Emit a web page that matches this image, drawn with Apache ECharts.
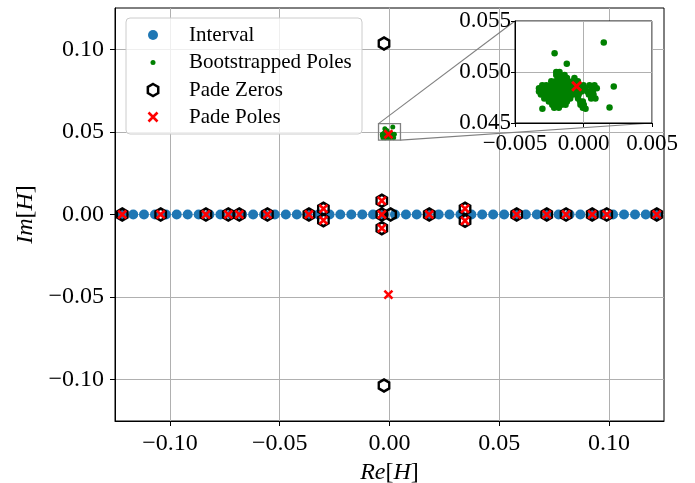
<!DOCTYPE html>
<html><head><meta charset="utf-8">
<script src="https://cdn.jsdelivr.net/npm/echarts@6/dist/echarts.min.js"></script>
<style>html,body{margin:0;padding:0;background:#fff}#c{width:695px;height:483px}</style>
</head><body><div id="c"></div>
<script>
// ---------- data ----------
const intervalRe = [
  -0.1217,-0.1167,-0.1118,-0.1068,-0.1018,-0.0969,-0.0919,-0.0869,-0.0820,-0.0770,
  -0.0720,-0.0671,-0.0621,-0.0571,-0.0522,-0.0472,-0.0422,-0.0373,-0.0323,-0.0273,
  -0.0224,-0.0174,-0.0124,-0.0075,-0.0025,0.0025,0.0075,0.0124,0.0174,0.0224,
  0.0273,0.0323,0.0373,0.0422,0.0472,0.0522,0.0571,0.0621,0.0671,0.0720,
  0.0770,0.0820,0.0869,0.0919,0.0969,0.1018,0.1068,0.1118,0.1167,0.1217
];
const poleRe = [-0.1217,-0.1042,-0.0836,-0.0734,-0.0684,-0.0556,-0.0367,-0.0301,-0.0301,
  -0.0035,-0.0035,-0.0035,0.0181,0.0344,0.0344,0.0579,0.0716,0.0804,0.0923,0.0989,0.1217,
  -0.0005,-0.0005];
const poleIm = [0,0,0,0,0,0,0,0.0035,-0.0035,
  0.0083,0,-0.0083,0,0.0035,-0.0038,0,0,0,0,0,0,
  0.0486,-0.0485];
const zeroRe = [-0.1217,-0.1042,-0.0836,-0.0734,-0.0684,-0.0556,-0.0367,-0.0301,-0.0301,
  -0.0035,-0.0035,-0.0035,0.0005,0.0181,0.0344,0.0344,0.0579,0.0716,0.0804,0.0923,0.0989,0.1217,
  -0.0025,-0.0025];
const zeroIm = [0,0,0,0,0,0,0,0.0035,-0.0035,
  0.0083,0,-0.0083,0,0,0.0035,-0.0038,0,0,0,0,0,0,
  0.1035,-0.1035];
const bootRe = [
  -0.00199,-0.00175,
  -0.00199,-0.00170,-0.00138,
  -0.00187,-0.00155,-0.00121,-0.00066,
  -0.00235,-0.00204,-0.00175,-0.00143,-0.00112,-0.00078,-0.00041,
  -0.00301,-0.00272,-0.00240,-0.00209,-0.00175,-0.00141,-0.00107,-0.00073,-0.00034,0.00000,0.00044,0.00080,
  -0.00325,-0.00296,-0.00262,-0.00228,-0.00194,-0.00160,-0.00126,-0.00092,-0.00058,-0.00017,0.00015,0.00063,0.00097,
  -0.00325,-0.00291,-0.00257,-0.00223,-0.00189,-0.00155,-0.00121,-0.00087,-0.00053,-0.00015,0.00027,0.00068,
  -0.00311,-0.00277,-0.00243,-0.00209,-0.00175,-0.00141,-0.00107,-0.00073,-0.00035,0.00039,0.00073,
  -0.00286,-0.00253,-0.00219,-0.00185,-0.00151,-0.00117,-0.00097,-0.00040,0.00056,0.00087,
  -0.00253,-0.00219,-0.00185,-0.00151,-0.00121,-0.00024,-0.00005,
  -0.00228,-0.00194,-0.00160,-0.00131,-0.00022,0.00002,
  -0.00214,-0.00180,-0.00005,
  0.00148,-0.00211,-0.00122,0.00221,0.00190,0.00015,-0.00300
];
const bootIm = [
  0.0500,0.0500,
  0.0497,0.0497,0.0497,
  0.0494,0.0494,0.0494,0.0494,
  0.0491,0.0491,0.0491,0.0491,0.0491,0.0491,0.0491,
  0.0487,0.0487,0.0487,0.0487,0.0487,0.0487,0.0487,0.0487,0.0487,0.0487,0.0487,0.0487,
  0.0484,0.0484,0.0484,0.0484,0.0484,0.0484,0.0484,0.0484,0.0484,0.0484,0.0484,0.0484,0.0484,
  0.0481,0.0481,0.0481,0.0481,0.0481,0.0481,0.0481,0.0481,0.0481,0.0481,0.0481,0.0481,
  0.0478,0.0478,0.0478,0.0478,0.0478,0.0478,0.0478,0.0478,0.0478,0.0478,0.0478,
  0.0474,0.0474,0.0474,0.0474,0.0474,0.0474,0.0474,0.0474,0.0474,0.0474,
  0.0471,0.0471,0.0471,0.0471,0.0471,0.0471,0.0471,
  0.0468,0.0468,0.0468,0.0468,0.0468,0.0468,
  0.0465,0.0465,0.0465,
  0.0529,0.05185,0.0508,0.04857,0.04652,0.0464,0.0464
];
const mainXTicks = [-0.10,-0.05,0.00,0.05,0.10];
const mainYTicks = [-0.10,-0.05,0.00,0.05,0.10];
const insetXRange = [-0.005, 0.005];
const insetYRange = [0.045, 0.055];
const seriesNames = ['Interval','Bootstrapped Poles','Pade Zeros','Pade Poles'];

// ---------- helpers ----------
const FONT = 'Liberation Serif';
const pairs = (xs, ys) => xs.map((x, i) => [x, ys[i]]);
const isTick = (v, ticks) => ticks.some(t => Math.abs(t - v) < 1e-9);
const fmt = (v, d) => (v < -1e-12 ? '\u2212' : '') + Math.abs(v).toFixed(d);
const HEX = 'path://M0,-1L0.866,-0.5L0.866,0.5L0,1L-0.866,0.5L-0.866,-0.5Z';
const XMARK = 'path://M0,0L1,1M1,0L0,1';
const BLUE = '#1f77b4', GREEN = '#008000', RED = '#ff0000';

const chart = echarts.init(document.getElementById('c'), null, {renderer: 'canvas'});

const mainAxisCommon = {
  type: 'value', min: -0.125, max: 0.125, splitNumber: 5, minInterval: 0.05, maxInterval: 0.05,
  axisLine: {show: true, onZero: false, lineStyle: {color: '#000', width: 1}},
  splitLine: {show: true, lineStyle: {color: '#b0b0b0', width: 1}},
  nameLocation: 'middle',
  nameTextStyle: {fontFamily: FONT, fontSize: 24, color: '#000',
    rich: {i: {fontFamily: FONT, fontSize: 24, fontStyle: 'italic', color: '#000'}}}
};

const insetAxisCommon = {
  type: 'value', interval: 0.005, gridIndex: 1, z: 11,
  axisLine: {show: true, onZero: false, lineStyle: {color: '#000', width: 1}},
  axisTick: {show: true, inside: false, length: 4, lineStyle: {color: '#000', width: 1}},
  splitLine: {show: true, lineStyle: {color: '#b0b0b0', width: 1}}
};

const legendCommon = {
  itemWidth: 62, padding: 0, z: 7, selectedMode: false,
  textStyle: {fontFamily: FONT, fontSize: 21, color: '#000', lineHeight: 22}
};

const option = {
  animation: false,
  backgroundColor: '#fff',
  grid: [
    {left: 115, top: 8, right: 31, bottom: 62, outerBoundsMode: 'none', containLabel: false,
      show: true, borderColor: '#000', borderWidth: 1, backgroundColor: 'transparent', z: 0},
    {left: 515, top: 21, width: 137, height: 102, outerBoundsMode: 'none', containLabel: false,
      show: true, borderColor: '#000', borderWidth: 1, backgroundColor: '#fff', z: 10}
  ],
  xAxis: [
    Object.assign({}, mainAxisCommon, {gridIndex: 0, name: '{i|Re}[{i|H}]', nameGap: 29,
      axisTick: {show: true, inside: false, length: 5, customValues: mainXTicks, lineStyle: {color: '#000', width: 1}},
      axisLabel: {margin: 11, fontFamily: FONT, fontSize: 24, color: '#000',
        formatter: v => isTick(v, mainXTicks) ? fmt(v, 2) : ''}}),
    Object.assign({}, insetAxisCommon, {min: insetXRange[0], max: insetXRange[1],
      axisLabel: {margin: 9, fontFamily: FONT, fontSize: 23, color: '#000', formatter: v => fmt(v, 3)}})
  ],
  yAxis: [
    Object.assign({}, mainAxisCommon, {gridIndex: 0, name: '{i|Im}[{i|H}]', nameGap: 70,
      axisTick: {show: true, inside: false, length: 5, customValues: mainYTicks, lineStyle: {color: '#000', width: 1}},
      axisLabel: {margin: 11, fontFamily: FONT, fontSize: 24, color: '#000',
        formatter: v => isTick(v, mainYTicks) ? fmt(v, 2) : ''}}),
    Object.assign({}, insetAxisCommon, {min: insetYRange[0], max: insetYRange[1],
      axisLabel: {margin: 4, fontFamily: FONT, fontSize: 23, color: '#000', formatter: v => fmt(v, 3)}})
  ],
  legend: [
    Object.assign({}, legendCommon, {left: 148, top: 24, itemHeight: 10, data: [{name: seriesNames[0], icon: 'circle'}],
      itemStyle: {color: BLUE, borderWidth: 0}}),
    Object.assign({}, legendCommon, {left: 150.5, top: 51.5, itemHeight: 5, data: [{name: seriesNames[1], icon: 'circle'}],
      itemStyle: {color: GREEN, borderWidth: 0}}),
    Object.assign({}, legendCommon, {left: 146.6, top: 79, itemHeight: 12, data: [{name: seriesNames[2], icon: HEX}],
      itemStyle: {color: 'rgba(255,255,255,0)', borderColor: '#000', borderWidth: 2.5}}),
    Object.assign({}, legendCommon, {left: 147.2, top: 106, itemHeight: 9, data: [{name: seriesNames[3], icon: XMARK}],
      itemStyle: {color: RED, borderColor: RED, borderWidth: 2.6}})
  ],
  series: [
    {name: seriesNames[0], type: 'scatter', xAxisIndex: 0, yAxisIndex: 0, z: 2,
      symbol: 'circle', symbolSize: 10, itemStyle: {color: BLUE, opacity: 1},
      data: intervalRe.map(v => [v, 0])},
    {name: seriesNames[1], type: 'scatter', xAxisIndex: 0, yAxisIndex: 0, z: 3,
      symbol: 'circle', symbolSize: 5, itemStyle: {color: GREEN, opacity: 1},
      data: pairs(bootRe, bootIm)},
    {name: seriesNames[2], type: 'scatter', xAxisIndex: 0, yAxisIndex: 0, z: 4,
      symbol: HEX, symbolSize: [10.5, 12], symbolKeepAspect: false,
      itemStyle: {color: 'rgba(255,255,255,0)', borderColor: '#000', borderWidth: 2.5, opacity: 1},
      data: pairs(zeroRe, zeroIm)},
    {name: seriesNames[3], type: 'scatter', xAxisIndex: 0, yAxisIndex: 0, z: 5,
      symbol: XMARK, symbolSize: 8, itemStyle: {color: RED, borderColor: RED, borderWidth: 2.6, opacity: 1},
      data: pairs(poleRe, poleIm)},
    // inset
    {name: seriesNames[1], type: 'scatter', xAxisIndex: 1, yAxisIndex: 1, z: 12, clip: true,
      symbol: 'circle', symbolSize: 6.5, itemStyle: {color: GREEN, opacity: 1},
      data: pairs(bootRe, bootIm)},
    {name: seriesNames[3], type: 'scatter', xAxisIndex: 1, yAxisIndex: 1, z: 13, clip: true,
      symbol: XMARK, symbolSize: 9, itemStyle: {color: RED, borderColor: RED, borderWidth: 3, opacity: 1},
      data: pairs(poleRe, poleIm)}
  ]
};
chart.setOption(option);

// zoom indicator + connectors + legend frame
const px = (g, x, y) => chart.convertToPixel({gridIndex: g}, [x, y]);
const rTL = px(0, insetXRange[0], insetYRange[1]);
const rBR = px(0, insetXRange[1], insetYRange[0]);
const iTL = px(1, insetXRange[0], insetYRange[1]);
const iBR = px(1, insetXRange[1], insetYRange[0]);
chart.setOption({
  graphic: [
    {type: 'rect', z: 6, silent: true,
      shape: {x: 126, y: 18, width: 236, height: 116, r: 4},
      style: {fill: 'rgba(255,255,255,0.8)', stroke: '#cccccc', lineWidth: 1}},
    {type: 'rect', z: 6, silent: true,
      shape: {x: rTL[0], y: rTL[1], width: rBR[0] - rTL[0], height: rBR[1] - rTL[1]},
      style: {fill: 'none', stroke: '#808080', lineWidth: 1.3}},
    {type: 'line', z: 6, silent: true,
      shape: {x1: rTL[0], y1: rTL[1], x2: iTL[0], y2: iTL[1]},
      style: {stroke: '#808080', lineWidth: 1.1}},
    {type: 'line', z: 6, silent: true,
      shape: {x1: rBR[0], y1: rBR[1], x2: iBR[0], y2: iBR[1]},
      style: {stroke: '#808080', lineWidth: 1.1}}
  ]
});
</script>
</body></html>
